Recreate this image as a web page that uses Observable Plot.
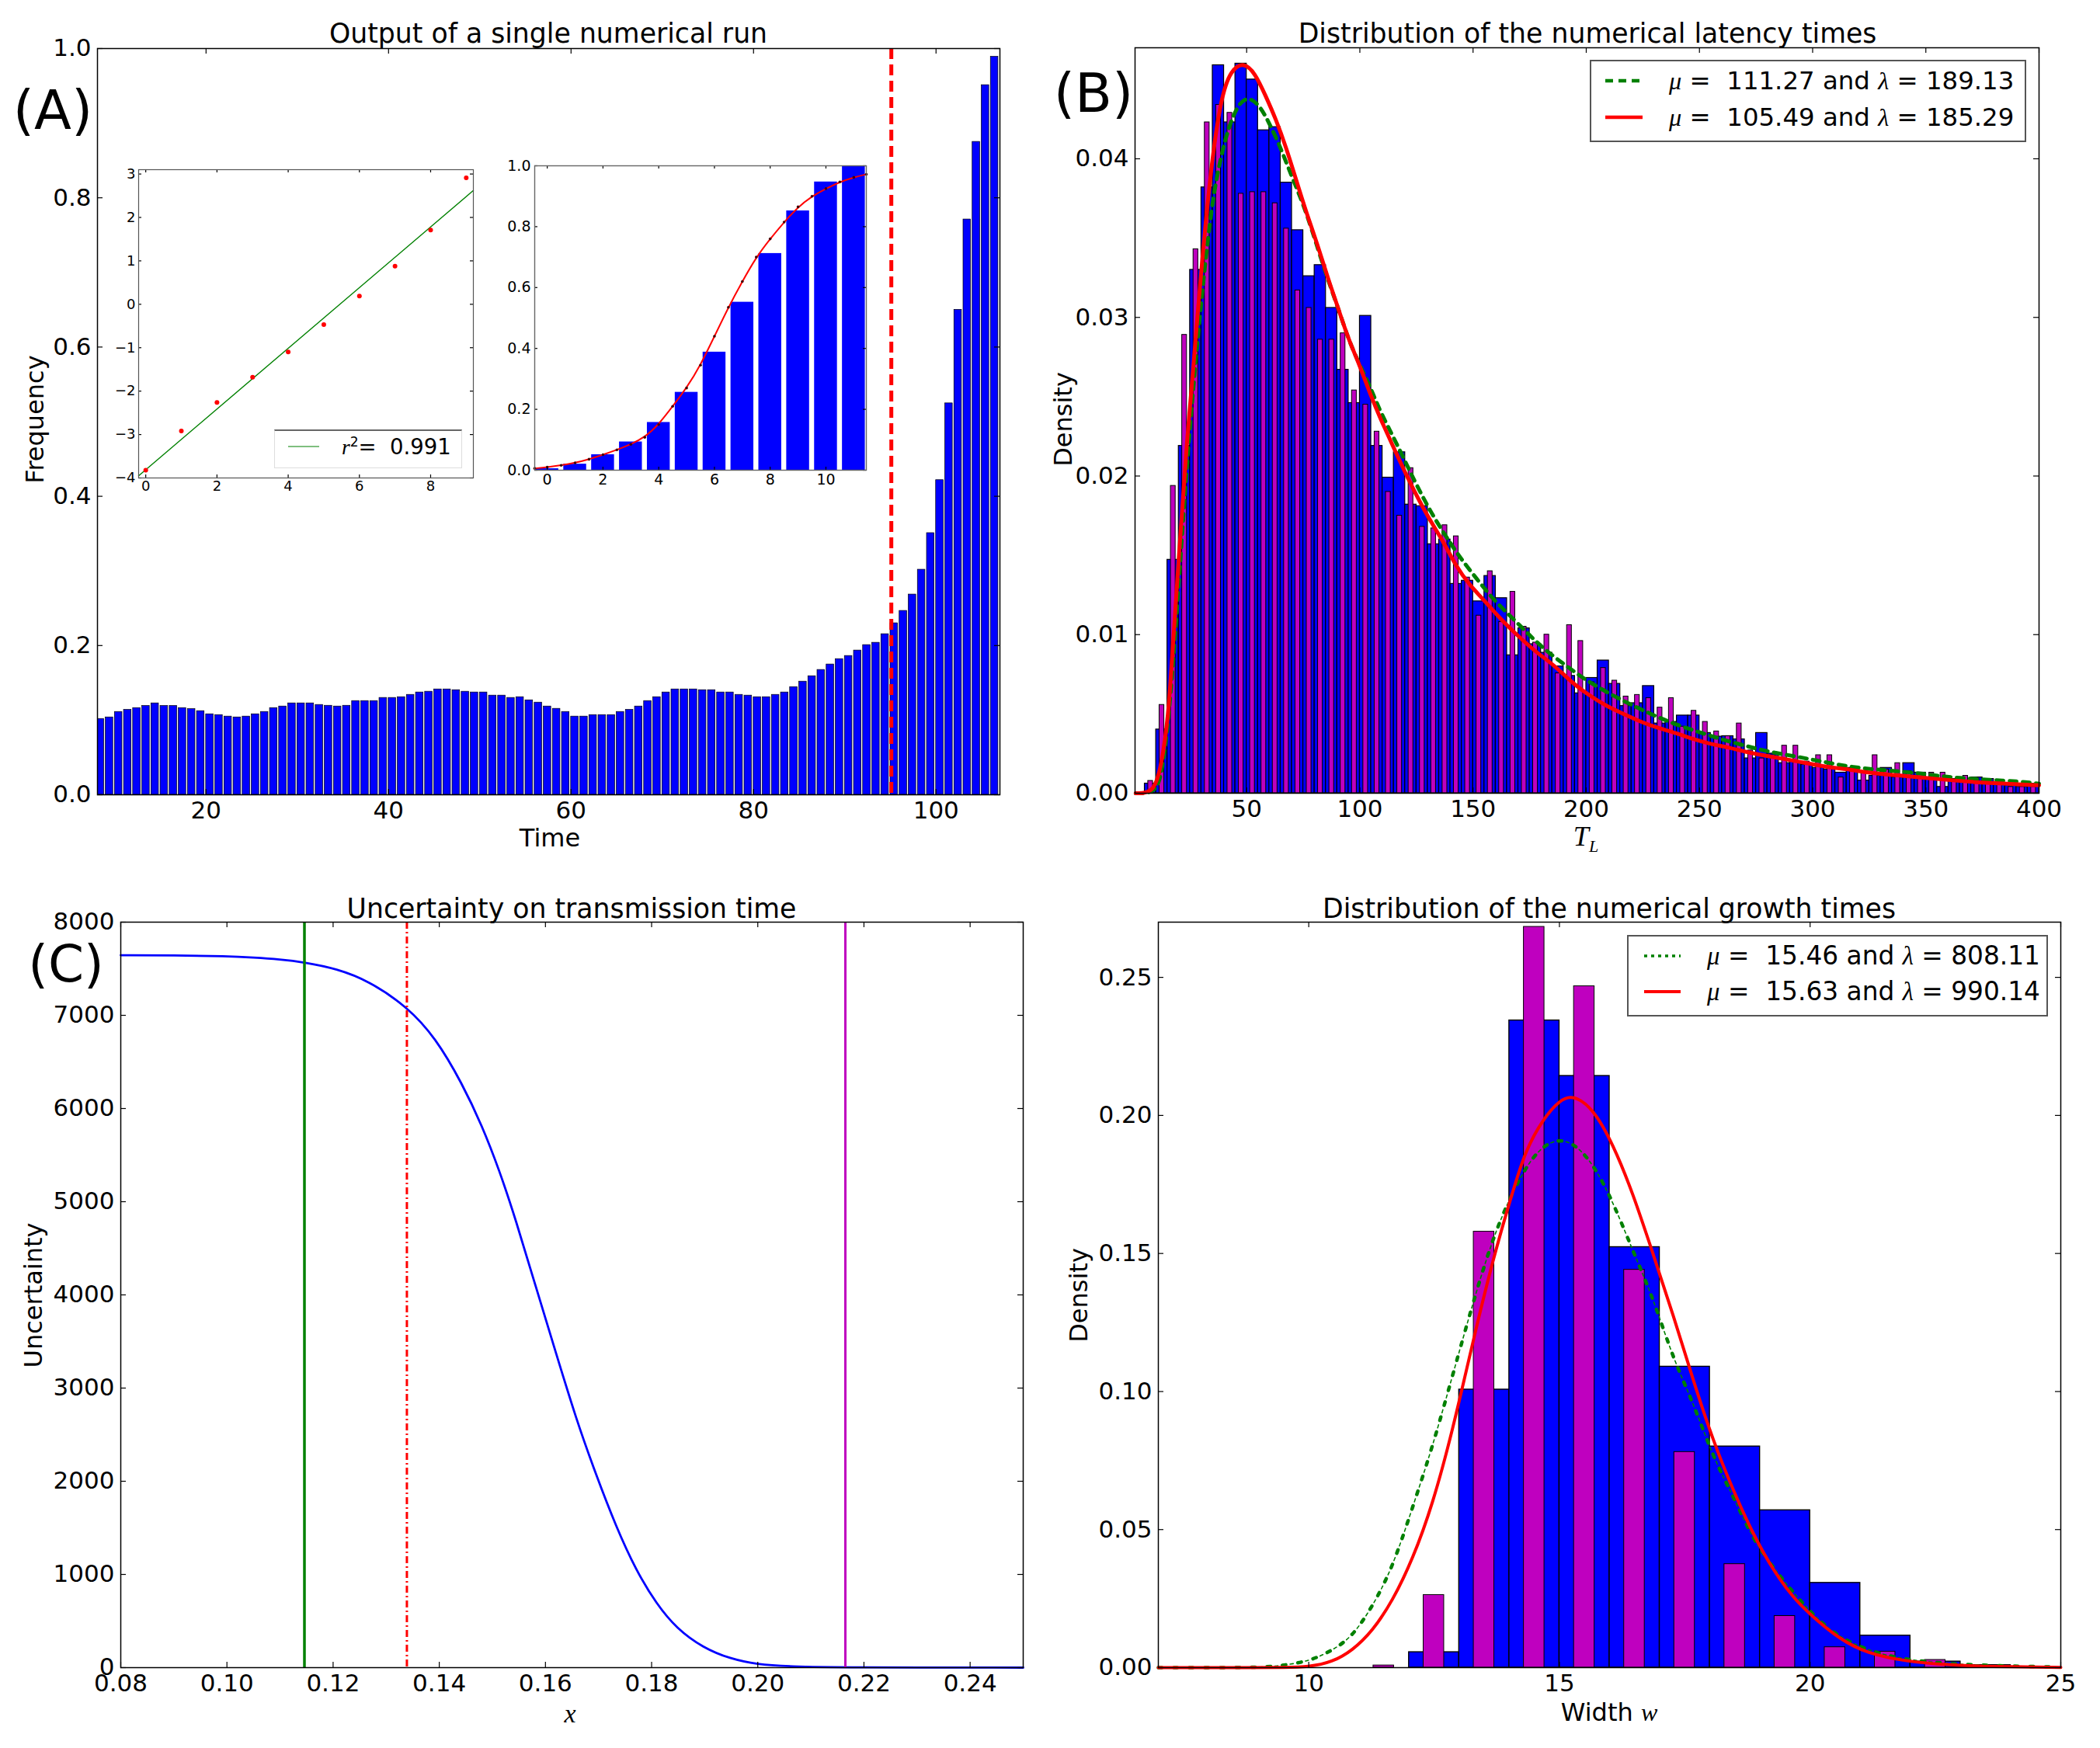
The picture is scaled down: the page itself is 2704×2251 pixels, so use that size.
<!DOCTYPE html>
<html>
<head>
<meta charset="utf-8">
<script src="https://cdn.jsdelivr.net/npm/d3@7"></script>
<script src="https://cdn.jsdelivr.net/npm/@observablehq/plot@0.6"></script>
<style>
  html, body { margin: 0; padding: 0; background: #fff; }
  #page { position: relative; width: 2704px; height: 2251px; overflow: hidden; font-family: "DejaVu Sans", sans-serif; color: #000; }
  #page svg { position: absolute; overflow: visible; }
  .txt { position: absolute; white-space: pre; transform: translate(-50%, -50%); line-height: 1; }
  .letter { line-height: 0.8; }
  .vert { transform: translate(-50%, -50%) rotate(-90deg); }
  .math { font-family: "Liberation Serif", serif; font-style: italic; }
  .box { position: absolute; background: #fff; box-sizing: border-box; }
</style>
</head>
<body>
<div id="page"></div>
<script>
//Panel A: output of a single run, one bar per time step starting at runStart
const runStart = 8;
const runFreq = [
  .1017, .1038, .1111, .1139, .1163, .1191, .1226, .1191, .1191, .1163, .1149, .1122, .108, .1069, .1049, .1038,
  .1049, .108, .1111, .1163, .1184, .1226, .1226, .1226, .1205, .1194, .1184, .1194, .1257, .1257, .1257, .1299,
  .1299, .1309, .134, .1372, .1382, .1413, .1413, .1403, .1382, .1372, .1372, .133, .133, .1299, .1309, .1267,
  .1236, .1184, .1153, .1111, .1049, .1049, .1069, .1069, .1069, .1111, .1139, .1184, .1257, .1309, .1372, .1413,
  .1413, .1413, .1403, .1403, .1372, .1372, .134, .133, .1309, .1309, .134, .1372, .1444, .1517, .159, .1674,
  .1747, .1819, .1861, .1934, .2007, .2038, .2153, .2299, .2465, .2684, .3017, .3507, .4217, .5246, .65, .771,
  .875, .951, .989,
];
const runThreshold = 95.1;

//Inset 1: linear fit on the log scale
const fitX = [0, 1, 2, 3, 4, 5, 6, 7, 8, 9];
const fitY = [-3.82, -2.92, -2.26, -1.68, -1.1, -0.47, 0.19, 0.88, 1.71, 2.91];
const fitLineX = [-0.2, 9.2];
const fitLineY = [-3.95, 2.62];

//Inset 2: start of the run with the logistic curve
const growthBars = [0.005, 0.02, 0.051, 0.093, 0.157, 0.256, 0.388, 0.552, 0.712, 0.852, 0.947, 1];
const growthCurveX = [-0.45, 0, 0.5, 1, 1.5, 2, 2.5, 3, 3.5, 4, 4.5, 5, 5.5, 6, 6.5, 7, 7.5, 8, 8.5, 9, 9.5, 10, 10.5, 11, 11.45];
const growthCurveY = [.006, .01, .016, .024, .036, .051, .067, .085, .108, .15, .21, .27, .345, .44, .535, .62, .7, .76, .815, .865, .9, .925, .947, .962, .972];

//Panel B: latency histogram, bins of 5 starting at latencyStart
const latencyStart = 5;
const latencyBlue = [
  .00061, .00402, .01472, .0219, .033, .0382, .0459, .0423, .046, .045, .0418, .042, .0385, .0355, .0326, .0333,
  .0306, .0267, .0246, .0301, .0219, .0199, .0215, .0182, .0181, .0157, .016, .0132, .0134, .0121, .0137, .0123,
  .0087, .0104, .0094, .00886, .008, .0074, .0063, .00727, .00837, .0069, .0055, .00568, .00676, .0044, .0045,
  .0049, .0049, .0038, .00357, .0036, .0034, .0022, .0038, .0025, .0019, .002, .0018, .0016, .0015, .0013, .0016,
  .0008, .0011, .0016, .001, .0019, .0013, .001, .0004, .0009, .0008, .001, .0009, .0006, .0005, .0004, .0006,
];
const latencyMagenta = [
  .00078, .00557, .01938, .0289, .0343, .0423, .0434, .0429, .0378, .0379, .0379, .0372, .0356, .0317, .0306, .0286,
  .0286, .029, .0254, .0245, .0228, .019, .0175, .0205, .0168, .0167, .0169, .0162, .0136, .0112, .014, .0108,
  .0127, .0105, .0095, .01, .00756, .0106, .0096, .007, .0079, .0071, .0061, .0062, .006, .0054, .006, .0042, .0052,
  .0045, .0039, .0036, .0044, .0027, .0022, .0024, .003, .003, .002, .0024, .0024, .001, .0016, .0014, .0024, .0015,
  .0019, .0014, .0013, .0013, .0013, .0009, .0011, .0009, .0009, .0006, .0004, .0004, .0004,
];
const latencyRedX = [1, 9, 12.3, 15.4, 17.2, 20.3, 23.8, 25, 29.6, 34.2, 38.7, 43, 48.8, 53.7, 58.3, 62.9, 67.5, 72, 76.6, 81.3, 85.8, 90.4, 95, 99.6, 104.2, 108.8, 114.9, 121, 130, 136.4, 142.5, 148.6, 154.7, 162, 168.5, 177.7, 185.7, 193.4, 201, 208.8, 216.5, 224, 232, 239.6, 247.3, 255, 262.7, 270.4, 278, 285.8, 293.5, 301, 308.9, 316.6, 324, 339.7, 355, 370.5, 386, 400];
const latencyRedY = [0, 0, .0017, .0048, .00886, .01544, .02256, .0243, .0325, .0395, .0439, .0456, .0461, .0454, .044, .0425, .0407, .0386, .0365, .0346, .0325, .0306, .0286, .0271, .0253, .0237, .0218, .0199, .0174, .016, .0143, .0131, .0122, .011, .0101, .0089, .0081, .007, .0062, .0055, .005, .0045, .0041, .0038, .0034, .0031, .0029, .0026, .0024, .0022, .002, .0018, .0016, .0015, .0013, .0011, .0009, .0007, .0006, .0005];
const latencyGreenX = [1, 9, 12.3, 15.4, 18.5, 20.8, 23.8, 26.4, 29.2, 32.3, 35.3, 38.4, 42.2, 46.8, 51.4, 56, 59.8, 64.4, 68.2, 72.8, 76.6, 81.3, 85.8, 90.4, 95, 99.6, 105, 108.8, 116.5, 124, 131.8, 138, 144, 151.7, 159, 167, 174.7, 182, 191.5, 201, 216.5, 227, 238, 249, 259.6, 270, 281, 293.5, 304, 315, 326.6, 338, 350, 361, 372, 384, 395, 400];
const latencyGreenY = [0, 0, .0009, .0044, .01, .0149, .0211, .0255, .0299, .0343, .0377, .04, .0421, .0436, .0439, .0433, .0423, .0409, .0395, .0379, .0365, .0344, .0324, .0306, .0286, .0271, .0255, .0241, .022, .0197, .0176, .0162, .0149, .0135, .0122, .0111, .01, .009, .008, .007, .0058, .0051, .0044, .0039, .0034, .003, .0026, .0023, .002, .0017, .0015, .0014, .0012, .001, .0009, .0008, .0007, .0006];

//Panel C: uncertainty curve and the three marked positions
const uncertX = [.08, .09, .1, .105, .11, .1145, .1207, .1267, .1339, .1393, .1443, .1481, .1513, .1544, .1582, .162, .1658, .1695, .1733, .1771, .1809, .1847, .1897, .1948, .1998, .206, .216, .25];
const uncertY = [7645, 7643, 7635, 7620, 7600, 7570, 7500, 7370, 7096, 6760, 6270, 5810, 5340, 4810, 4083, 3374, 2665, 2074, 1513, 1040, 685, 420, 213, 95, 35, 12, 2, 0];
const uncertGreen = 0.1146;
const uncertRed = 0.1339;
const uncertMagenta = 0.2165;

//Panel D: growth histogram, unit bins
const widthBlueStart = 12;
const widthBlue = [.0056, .1007, .2344, .2143, .1523, .109, .0801, .057, .0307, .0116, .0022, .0009];
const widthMagentaStart = 11;
const widthMagenta = [.0008, .0263, .1579, .2683, .2468, .1441, .0781, .0375, .0187, .0074, .0058, .0028, .0008];
const widthRedX = [7, 9, 9.5, 10, 10.47, 10.87, 11.27, 11.67, 12.07, 12.47, 12.87, 13.27, 13.67, 14.07, 14.33, 14.67, 15, 15.27, 15.67, 16.07, 16.47, 16.87, 17.27, 17.67, 18.07, 18.47, 18.87, 19.27, 19.67, 20.07, 20.6, 21.13, 21.93, 22.73, 23.53, 25];
const widthRedY = [0, 0, .0001, .0002, .002, .0062, .0132, .0241, .0391, .059, .0859, .1178, .1477, .1726, .1876, .1986, .2055, .2075, .2026, .1896, .1716, .1497, .1278, .1039, .0819, .064, .048, .0351, .0251, .0181, .0102, .0052, .0022, .001, .0004, .0001];
const widthGreenX = [7, 9, 9.4, 10, 10.47, 10.87, 11.27, 11.67, 12.07, 12.47, 12.87, 13.27, 13.67, 14.07, 14.47, 14.87, 15.27, 15.67, 16.07, 16.47, 16.87, 17.27, 17.67, 18.07, 18.47, 18.87, 19.27, 19.8, 20.33, 20.87, 21.53, 22.2, 23.27, 25];
const widthGreenY = [0, 0, .0006, .0022, .0062, .0112, .0221, .0361, .058, .08, .1059, .1318, .1557, .1726, .1856, .1915, .1905, .1826, .1687, .1507, .1338, .1118, .0959, .076, .062, .0461, .0361, .0241, .0142, .0082, .0042, .0022, .0008, .0002];

const BLUE = "#0000ff", MAGENTA = "#bf00bf", GREEN = "#008000", RED = "#ff0000";
const page = document.getElementById("page");

const zip = (xs, ys) => xs.map((x, i) => ({ x, y: ys[i] }));
const bins = (values, start, step, x1Off, x2Off) =>
  values.map((y, i) => ({ x1: start + i * step + x1Off, x2: start + i * step + x2Off, y }));

//matplotlib style ticks: inside the frame, on all four sides
const innerTicks = (xDomain, yDomain, xTicks, yTicks, box, len) => {
  const fx = (len / (box.r - box.l)) * (xDomain[1] - xDomain[0]);
  const fy = (len / (box.b - box.t)) * (yDomain[1] - yDomain[0]);
  const style = { stroke: "#000", strokeWidth: 1.2 };
  return [
    Plot.ruleX(xTicks, { y1: yDomain[0], y2: yDomain[0] + fy, ...style }),
    Plot.ruleX(xTicks, { y1: yDomain[1] - fy, y2: yDomain[1], ...style }),
    Plot.ruleY(yTicks, { x1: xDomain[0], x2: xDomain[0] + fx, ...style }),
    Plot.ruleY(yTicks, { x1: xDomain[1] - fx, x2: xDomain[1], ...style }),
  ];
};

const addPanel = ({ box, xDomain, yDomain, xTicks, yTicks, xFormat, yFormat, marks, fontSize = 31, pad = 8, tickLen = 7, frame = "#000", frameWidth = 1.5 }) => {
  const M = 100;
  const chart = Plot.plot({
    width: box.r - box.l + 2 * M,
    height: box.b - box.t + 2 * M,
    marginLeft: M,
    marginRight: M,
    marginTop: M,
    marginBottom: M,
    x: { domain: xDomain, label: null },
    y: { domain: yDomain, label: null },
    style: { background: "transparent", fontFamily: "DejaVu Sans", maxWidth: "none" },
    marks: [
      ...marks,
      ...innerTicks(xDomain, yDomain, xTicks, yTicks, box, tickLen),
      Plot.frame({ stroke: frame, strokeWidth: frameWidth }),
      Plot.axisX(xTicks, { anchor: "bottom", tickSize: 0, tickPadding: pad, tickFormat: xFormat, fontSize, label: null }),
      Plot.axisY(yTicks, { anchor: "left", tickSize: 0, tickPadding: pad, tickFormat: yFormat, fontSize, label: null }),
    ],
  });
  chart.style.left = box.l - M + "px";
  chart.style.top = box.t - M + "px";
  page.appendChild(chart);
};

const addText = (html, x, y, size, cls = "") => {
  const el = document.createElement("div");
  el.className = "txt " + cls;
  el.innerHTML = html;
  el.style.left = x + "px";
  el.style.top = y + "px";
  el.style.fontSize = size + "px";
  page.appendChild(el);
  return el;
};

//Legend box with a line sample per row
const addLegend = (box, rows) => {
  const el = document.createElement("div");
  el.className = "box";
  el.style.cssText += `left:${box.l}px;top:${box.t}px;width:${box.r - box.l}px;height:${box.b - box.t}px;border:${box.border};${box.extra || ""}`;
  page.appendChild(el);
  const ns = "http://www.w3.org/2000/svg";
  rows.forEach((row) => {
    const svg = document.createElementNS(ns, "svg");
    svg.setAttribute("width", row.x2 - row.x1);
    svg.setAttribute("height", 10);
    svg.style.left = row.x1 + "px";
    svg.style.top = row.y - 5 + "px";
    const line = document.createElementNS(ns, "line");
    line.setAttribute("x1", 0);
    line.setAttribute("x2", row.x2 - row.x1);
    line.setAttribute("y1", 5);
    line.setAttribute("y2", 5);
    line.setAttribute("stroke", row.stroke);
    line.setAttribute("stroke-width", row.width);
    if (row.dash) line.setAttribute("stroke-dasharray", row.dash);
    svg.appendChild(line);
    page.appendChild(svg);
    const t = addText(row.html, row.tx, row.y, row.size);
    t.style.transform = "translate(0, -50%)";
  });
};

const f1 = d3.format(".1f"), f2 = d3.format(".2f"), f0 = d3.format(".0f");

//Panel A
const boxA = { l: 125, r: 1287, t: 62, b: 1023 };
addPanel({
  box: boxA,
  xDomain: [8.1, 107],
  yDomain: [0, 1],
  xTicks: [20, 40, 60, 80, 100],
  yTicks: [0, 0.2, 0.4, 0.6, 0.8, 1],
  xFormat: f0,
  yFormat: f1,
  marks: [
    Plot.rectY(bins(runFreq, runStart, 1, 0, 0.82), { x1: "x1", x2: "x2", y: "y", fill: BLUE, stroke: "#000", strokeWidth: 0.7, clip: true }),
    Plot.ruleX([runThreshold], { stroke: RED, strokeWidth: 5, strokeDasharray: "14,7" }),
  ],
});

//Inset 1
const boxI1 = { l: 178, r: 609, t: 218, b: 615 };
addPanel({
  box: boxI1,
  xDomain: [-0.2, 9.2],
  yDomain: [-4, 3.1],
  xTicks: [0, 2, 4, 6, 8],
  yTicks: [-4, -3, -2, -1, 0, 1, 2, 3],
  xFormat: f0,
  yFormat: f0,
  fontSize: 18,
  pad: 4,
  tickLen: 4,
  frame: "#555",
  frameWidth: 1.2,
  marks: [
    Plot.line(zip(fitLineX, fitLineY), { x: "x", y: "y", stroke: GREEN, strokeWidth: 1.4 }),
    Plot.dot(zip(fitX, fitY), { x: "x", y: "y", fill: RED, r: 3 }),
  ],
});
addLegend({ l: 353, r: 595, t: 553, b: 603, border: "1px solid #ddd", extra: "border-top:2px solid #666;" }, [
  { x1: 371, x2: 411, y: 575, stroke: GREEN, width: 1.2, tx: 440, size: 27.5, html: '<span class="math">r</span><sup style="font-size:17px">2</sup>=  0.991' },
]);

//Inset 2
const boxI2 = { l: 688, r: 1115, t: 213, b: 605 };
addPanel({
  box: boxI2,
  xDomain: [-0.45, 11.45],
  yDomain: [0, 1],
  xTicks: [0, 2, 4, 6, 8, 10],
  yTicks: [0, 0.2, 0.4, 0.6, 0.8, 1],
  xFormat: f0,
  yFormat: f1,
  fontSize: 19,
  pad: 5,
  tickLen: 4,
  frame: "#666",
  frameWidth: 1.4,
  marks: [
    Plot.rectY(bins(growthBars, 0, 1, -0.41, 0.41), { x1: "x1", x2: "x2", y: "y", fill: BLUE }),
    Plot.line(zip(growthCurveX, growthCurveY), { x: "x", y: "y", stroke: RED, strokeWidth: 2, curve: "basis" }),
    Plot.dot(zip(growthCurveX, growthCurveY), { x: "x", y: "y", fill: "#400", r: 1.8 }),
  ],
});

//Panel B
const boxB = { l: 1461, r: 2625, t: 61, b: 1021 };
addPanel({
  box: boxB,
  xDomain: [0.7, 400],
  yDomain: [0, 0.047],
  xTicks: [50, 100, 150, 200, 250, 300, 350, 400],
  yTicks: [0, 0.01, 0.02, 0.03, 0.04],
  xFormat: f0,
  yFormat: f2,
  marks: [
    Plot.rectY(bins(latencyBlue, latencyStart, 5, 0, 5), { x1: "x1", x2: "x2", y: "y", fill: BLUE, stroke: "#000", strokeWidth: 1.2 }),
    Plot.rectY(bins(latencyMagenta, latencyStart, 5, 1.5, 3.6), { x1: "x1", x2: "x2", y: "y", fill: MAGENTA, stroke: "#000", strokeWidth: 1 }),
    Plot.line(zip(latencyGreenX, latencyGreenY), { x: "x", y: "y", stroke: GREEN, strokeWidth: 5, strokeDasharray: "9,8", curve: "basis" }),
    Plot.line(zip(latencyRedX, latencyRedY), { x: "x", y: "y", stroke: RED, strokeWidth: 5, curve: "basis" }),
  ],
});
addLegend({ l: 2047, r: 2609, t: 77, b: 183, border: "2px solid #555" }, [
  { x1: 2067, x2: 2115, y: 104, stroke: GREEN, width: 4.5, dash: "10,7", tx: 2149, size: 32.4, html: '<span class="math">μ</span> =  111.27 and <span class="math">λ</span> = 189.13' },
  { x1: 2067, x2: 2115, y: 151, stroke: RED, width: 4.5, tx: 2149, size: 32.4, html: '<span class="math">μ</span> =  105.49 and <span class="math">λ</span> = 185.29' },
]);

//Panel C
const boxC = { l: 155, r: 1317, t: 1187, b: 2147 };
addPanel({
  box: boxC,
  xDomain: [0.08, 0.25],
  yDomain: [0, 8000],
  xTicks: [0.08, 0.1, 0.12, 0.14, 0.16, 0.18, 0.2, 0.22, 0.24],
  yTicks: [0, 1000, 2000, 3000, 4000, 5000, 6000, 7000, 8000],
  xFormat: f2,
  yFormat: f0,
  marks: [
    Plot.line(zip(uncertX, uncertY), { x: "x", y: "y", stroke: BLUE, strokeWidth: 2.8, curve: "basis" }),
    Plot.ruleX([uncertGreen], { stroke: GREEN, strokeWidth: 3.5 }),
    Plot.ruleX([uncertRed], { stroke: RED, strokeWidth: 3, strokeDasharray: "9,4,2,4" }),
    Plot.ruleX([uncertMagenta], { stroke: MAGENTA, strokeWidth: 3 }),
  ],
});

//Panel D
const boxD = { l: 1491, r: 2653, t: 1187, b: 2147 };
addPanel({
  box: boxD,
  xDomain: [7, 25],
  yDomain: [0, 0.27],
  xTicks: [10, 15, 20, 25],
  yTicks: [0, 0.05, 0.1, 0.15, 0.2, 0.25],
  xFormat: f0,
  yFormat: f2,
  marks: [
    Plot.rectY(bins(widthBlue, widthBlueStart, 1, 0, 1), { x1: "x1", x2: "x2", y: "y", fill: BLUE, stroke: "#000", strokeWidth: 1.4 }),
    Plot.rectY(bins(widthMagenta, widthMagentaStart, 1, 0.29, 0.7), { x1: "x1", x2: "x2", y: "y", fill: MAGENTA, stroke: "#000", strokeWidth: 1 }),
    //the dash-dot line has big dots with thin dashes between them
    Plot.line(zip(widthGreenX, widthGreenY), { x: "x", y: "y", stroke: GREEN, strokeWidth: 4.5, strokeDasharray: "4.5,15.5", curve: "basis" }),
    Plot.line(zip(widthGreenX, widthGreenY), { x: "x", y: "y", stroke: GREEN, strokeWidth: 1.6, strokeDasharray: "4,16", strokeDashoffset: -10, curve: "basis" }),
    Plot.line(zip(widthRedX, widthRedY), { x: "x", y: "y", stroke: RED, strokeWidth: 4, curve: "basis" }),
  ],
});
addLegend({ l: 2095, r: 2637, t: 1204, b: 1309, border: "2px solid #555" }, [
  { x1: 2117, x2: 2164, y: 1231, stroke: GREEN, width: 3.5, dash: "4,5", tx: 2198, size: 32.8, html: '<span class="math">μ</span> =  15.46 and <span class="math">λ</span> = 808.11' },
  { x1: 2117, x2: 2164, y: 1277, stroke: RED, width: 4, tx: 2198, size: 32.8, html: '<span class="math">μ</span> =  15.63 and <span class="math">λ</span> = 990.14' },
]);

//Titles, axis labels and panel letters
addText("Output of a single numerical run", 706, 43, 34.7);
addText("Distribution of the numerical latency times", 2044, 43, 34.7);
addText("Uncertainty on transmission time", 736, 1170, 34.7);
addText("Distribution of the numerical growth times", 2072, 1170, 34.7);

addText("Frequency", 45, 540, 32, "vert");
addText("Time", 708, 1079, 32);
addText("Density", 1369, 540, 32, "vert");
addText('T<sub style="font-size:22px">L</sub>', 2042, 1080, 36, "math");
addText("Uncertainty", 43, 1668, 32, "vert");
addText("x", 734, 2207, 34, "math");
addText("Density", 1389, 1668, 32, "vert");
addText('Width <span class="math">w</span>', 2072, 2205, 32);

addText("(A)", 68, 142, 70, "letter");
addText("(B)", 1408, 120, 70, "letter");
addText("(C)", 85, 1242, 66, "letter");
</script>
</body>
</html>
